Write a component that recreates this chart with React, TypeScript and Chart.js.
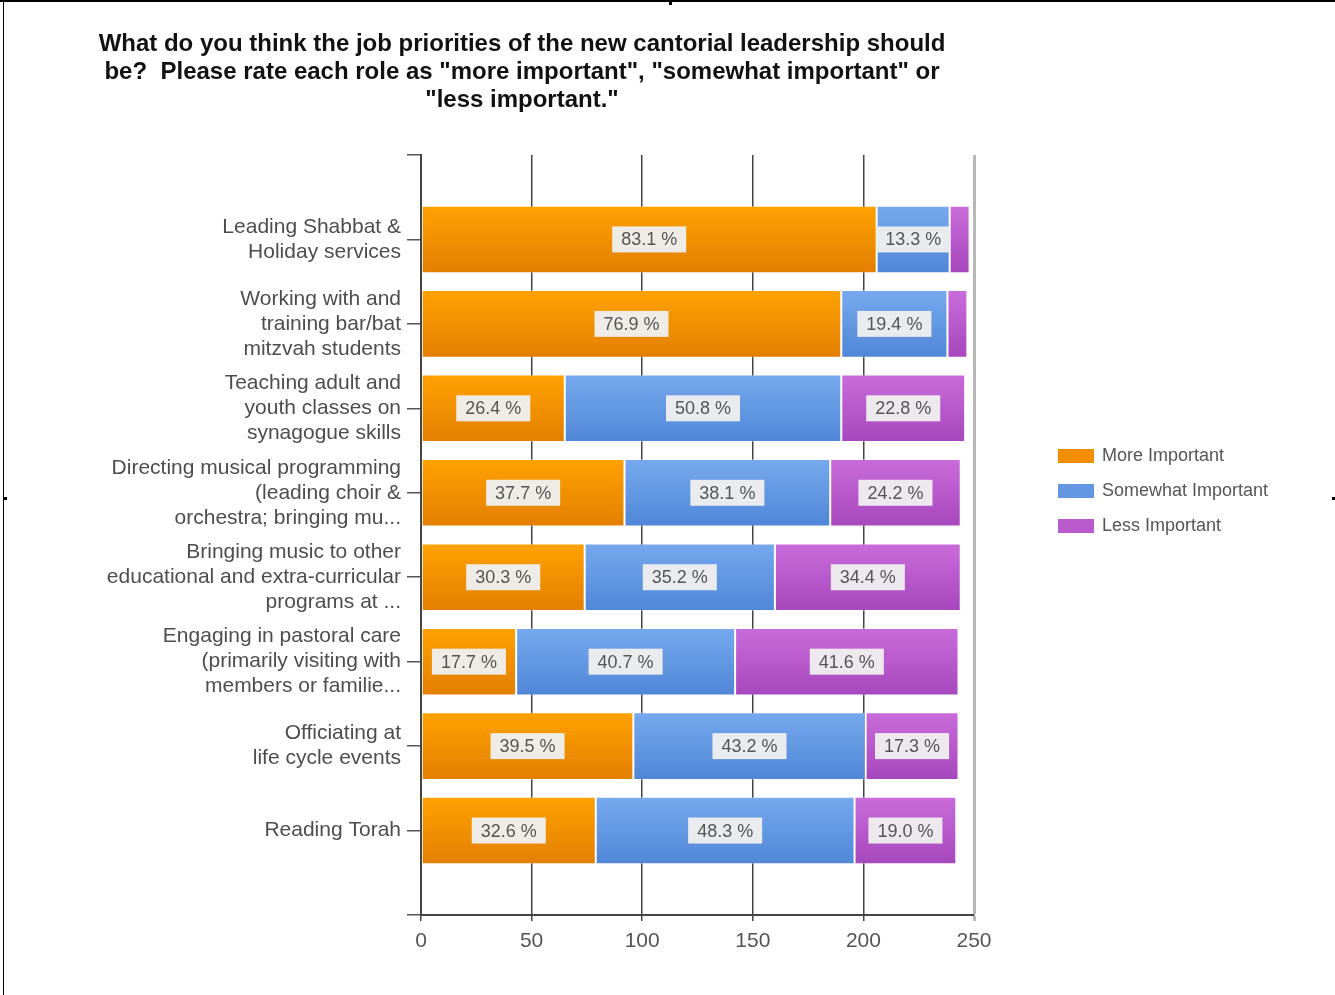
import React, { useEffect, useRef } from "react";
import { Chart, registerables } from "chart.js";

Chart.register(...registerables);

const titleLines = [
  "What do you think the job priorities of the new cantorial leadership should",
  "be?  Please rate each role as \"more important\", \"somewhat important\" or",
  "\"less important.\"",
];

const categories: string[][] = [
  ["Leading Shabbat &", "Holiday services"],
  ["Working with and", "training bar/bat", "mitzvah students"],
  ["Teaching adult and", "youth classes on", "synagogue skills"],
  ["Directing musical programming", "(leading choir &", "orchestra; bringing mu..."],
  ["Bringing music to other", "educational and extra-curricular", "programs at ..."],
  ["Engaging in pastoral care", "(primarily visiting with", "members or familie..."],
  ["Officiating at", "life cycle events"],
  ["Reading Torah"],
];

const seriesNames = ["More Important", "Somewhat Important", "Less Important"];
const moreImportant = [206, 190, 65, 92, 74, 43, 96, 79];
const somewhatImportant = [33, 48, 125, 93, 86, 99, 105, 117];
const lessImportant = [9, 9, 56, 59, 84, 101, 42, 46];

const xTicks = [0, 50, 100, 150, 200, 250];

const topColors = ["#ffa200", "#76a9ee", "#c96cda"];
const bottomColors = ["#e27f00", "#4f86d6", "#a647bd"];
const legendColors = ["#f28d00", "#6496e2", "#b95bcc"];

const BAR_PCT = 0.8;
const FONT = "'Liberation Sans', Arial, sans-serif";

function pad(arr: number[]): (number | null)[] {
  return [null, ...arr, null];
}

function gradientFill(i: number) {
  return (c: any) => {
    const chart = c.chart;
    const ys = chart.scales && chart.scales.y;
    if (!ys || c.type !== "data" || !chart.chartArea) return legendColors[i];
    const y = ys.getPixelForValue(c.dataIndex);
    const step = Math.abs(ys.getPixelForValue(1) - ys.getPixelForValue(0));
    const h = (step * BAR_PCT) / 2;
    const g = chart.ctx.createLinearGradient(0, y - h, 0, y + h);
    g.addColorStop(0, topColors[i]);
    g.addColorStop(1, bottomColors[i]);
    return g;
  };
}

const overlayPlugin = {
  id: "overlay",
  afterDatasetsDraw(chart: any) {
    const ctx = chart.ctx;
    const datasets = chart.data.datasets;
    const n = categories.length;
    ctx.save();
    ctx.font = `18px ${FONT}`;
    ctx.textAlign = "center";
    ctx.textBaseline = "middle";
    for (let idx = 1; idx <= n; idx++) {
      let total = 0;
      datasets.forEach((d: any) => (total += d.data[idx] || 0));
      datasets.forEach((d: any, di: number) => {
        const el = chart.getDatasetMeta(di).data[idx];
        const v = d.data[idx];
        if (!el || !v) return;
        const w = Math.abs(el.x - el.base);
        if (w < 50) return;
        const text = ((v / total) * 100).toFixed(1) + " %";
        const tw = ctx.measureText(text).width + 18;
        const cx = (el.x + el.base) / 2;
        const cy = el.y;
        ctx.fillStyle = "rgba(238,238,238,0.96)";
        ctx.fillRect(cx - tw / 2, cy - 13, tw, 26);
        ctx.fillStyle = "#555555";
        ctx.fillText(text, cx, cy + 1);
      });
    }
    ctx.restore();
  },
  afterDraw(chart: any) {
    const ctx = chart.ctx;
    ctx.save();
    ctx.font = `bold 24px ${FONT}`;
    ctx.fillStyle = "#111111";
    ctx.textAlign = "center";
    ctx.textBaseline = "middle";
    titleLines.forEach((t, i) => ctx.fillText(t, 522, 44 + i * 28));
    ctx.font = `18px ${FONT}`;
    ctx.textAlign = "left";
    seriesNames.forEach((name, i) => {
      const y = 456 + i * 35;
      ctx.fillStyle = legendColors[i];
      ctx.fillRect(1058, y - 7, 36, 14);
      ctx.fillStyle = "#555555";
      ctx.fillText(name, 1102, y);
    });
    ctx.restore();
  },
};

export default function App() {
  const ref = useRef<HTMLCanvasElement | null>(null);
  useEffect(() => {
    if (!ref.current) return;
    const labels: any[] = ["", ...categories, ""];
    const chart = new Chart(ref.current, {
      type: "bar",
      data: {
        labels,
        datasets: [moreImportant, somewhatImportant, lessImportant].map((arr, i) => ({
          label: seriesNames[i],
          data: pad(arr),
          backgroundColor: gradientFill(i),
          borderColor: "rgba(255,255,255,0.3)",
          borderWidth: 1,
          borderSkipped: false,
          barPercentage: BAR_PCT,
          categoryPercentage: 1,
        })),
      },
      options: {
        indexAxis: "y",
        responsive: false,
        animation: false,
        layout: { padding: { top: 155, right: 361, left: 0, bottom: 0 } },
        plugins: {
          legend: { display: false },
          title: { display: false },
          tooltip: { enabled: false },
        },
        scales: {
          x: {
            type: "linear",
            stacked: true,
            min: 0,
            max: 250,
            afterBuildTicks: (scale: any) => {
              scale.ticks = xTicks.map((v) => ({ value: v }));
            },
            afterFit: (scale: any) => {
              scale.height = 80;
            },
            ticks: {
              color: "#555555",
              font: { size: 21, family: FONT },
              padding: 8,
            },
            grid: {
              color: (c: any) => (c.tick && c.tick.value === 250 ? "#b8b8b8" : "#444444"),
              lineWidth: (c: any) => (c.tick && c.tick.value === 250 ? 3 : 1.5),
              tickLength: 6,
            },
            border: { display: true, color: "#444444", width: 2 },
          },
          y: {
            type: "category",
            stacked: true,
            offset: false,
            afterFit: (scale: any) => {
              scale.width = 421;
            },
            ticks: {
              color: "#4d4d4d",
              font: { size: 21, family: FONT, lineHeight: 1.19 },
              padding: 6,
              autoSkip: false,
            },
            grid: {
              offset: false,
              drawOnChartArea: false,
              drawTicks: true,
              tickLength: 14,
              color: "#555555",
              lineWidth: 1.5,
            },
            border: { display: true, color: "#444444", width: 2 },
          },
        },
      },
      plugins: [overlayPlugin],
    } as any);
    return () => chart.destroy();
  }, []);

  return (
    <div style={{ position: "absolute", left: 0, top: 0, width: 1335, height: 995, background: "#ffffff" }}>
      <canvas ref={ref} width={1335} height={995} style={{ display: "block" }} />
      <div style={{ position: "absolute", left: 0, top: 0, width: 1335, height: 2, background: "#000" }} />
      <div style={{ position: "absolute", left: 3, top: 0, width: 1, height: 995, background: "#000" }} />
      <div style={{ position: "absolute", left: 4, top: 497, width: 3, height: 3, background: "#000" }} />
      <div style={{ position: "absolute", left: 1332, top: 497, width: 3, height: 3, background: "#000" }} />
      <div style={{ position: "absolute", left: 669, top: 2, width: 3, height: 3, background: "#000" }} />
    </div>
  );
}
